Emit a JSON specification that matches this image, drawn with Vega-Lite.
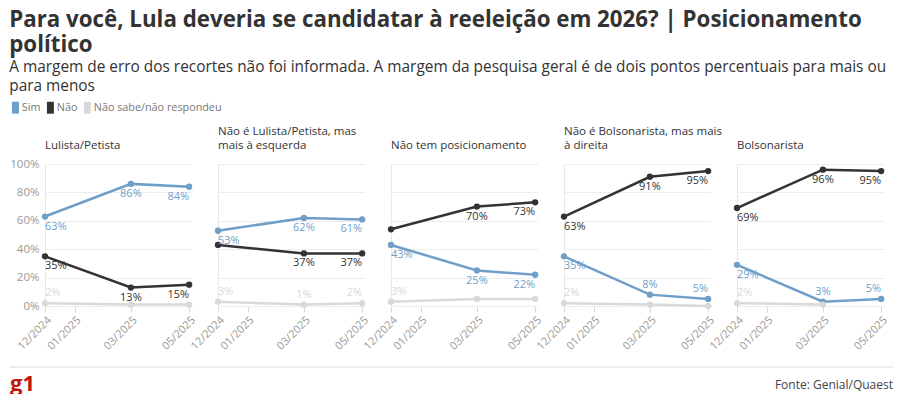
{
  "$schema": "https://vega.github.io/schema/vega-lite/v6.json",
  "padding": {"left": 9, "right": 8, "top": 8, "bottom": 0},
  "background": "white",
  "title": {
    "text": ["Para você, Lula deveria se candidatar à reeleição em 2026? | Posicionamento", "político"],
    "subtitle": ["A margem de erro dos recortes não foi informada. A margem da pesquisa geral é de dois pontos percentuais para mais ou", "para menos"],
    "anchor": "start",
    "font": "Open Sans",
    "fontSize": 22.3,
    "fontWeight": "bold",
    "color": "#333333",
    "lineHeight": 25,
    "subtitleFont": "Open Sans",
    "subtitleFontSize": 15.4,
    "subtitleColor": "#333333",
    "subtitleLineHeight": 18.5,
    "subtitlePadding": 4,
    "offset": 8
  },
  "config": {
    "font": "Open Sans",
    "view": {"stroke": null},
    "concat": {"spacing": 14}
  },
  "vconcat": [
    {
      "data": {
        "format": {"parse": {"data": "utc:'%Y-%m-%d'"}},
        "values": [
          {"painel": "Lulista/Petista", "resposta": "Sim", "data": "2024-12-01", "valor": 0.63, "rotulo": true},
          {"painel": "Lulista/Petista", "resposta": "Sim", "data": "2025-03-01", "valor": 0.86, "rotulo": true},
          {"painel": "Lulista/Petista", "resposta": "Sim", "data": "2025-05-01", "valor": 0.84, "rotulo": true},
          {"painel": "Lulista/Petista", "resposta": "Não", "data": "2024-12-01", "valor": 0.35, "rotulo": true},
          {"painel": "Lulista/Petista", "resposta": "Não", "data": "2025-03-01", "valor": 0.13, "rotulo": true},
          {"painel": "Lulista/Petista", "resposta": "Não", "data": "2025-05-01", "valor": 0.15, "rotulo": true},
          {"painel": "Lulista/Petista", "resposta": "Não sabe/não respondeu", "data": "2024-12-01", "valor": 0.02, "rotulo": true},
          {"painel": "Lulista/Petista", "resposta": "Não sabe/não respondeu", "data": "2025-03-01", "valor": 0.01, "rotulo": false},
          {"painel": "Lulista/Petista", "resposta": "Não sabe/não respondeu", "data": "2025-05-01", "valor": 0.01, "rotulo": false},

          {"painel": "Não é Lulista/Petista, mas mais à esquerda", "resposta": "Sim", "data": "2024-12-01", "valor": 0.53, "rotulo": true},
          {"painel": "Não é Lulista/Petista, mas mais à esquerda", "resposta": "Sim", "data": "2025-03-01", "valor": 0.62, "rotulo": true},
          {"painel": "Não é Lulista/Petista, mas mais à esquerda", "resposta": "Sim", "data": "2025-05-01", "valor": 0.61, "rotulo": true},
          {"painel": "Não é Lulista/Petista, mas mais à esquerda", "resposta": "Não", "data": "2024-12-01", "valor": 0.43, "rotulo": false},
          {"painel": "Não é Lulista/Petista, mas mais à esquerda", "resposta": "Não", "data": "2025-03-01", "valor": 0.37, "rotulo": true},
          {"painel": "Não é Lulista/Petista, mas mais à esquerda", "resposta": "Não", "data": "2025-05-01", "valor": 0.37, "rotulo": true},
          {"painel": "Não é Lulista/Petista, mas mais à esquerda", "resposta": "Não sabe/não respondeu", "data": "2024-12-01", "valor": 0.03, "rotulo": true},
          {"painel": "Não é Lulista/Petista, mas mais à esquerda", "resposta": "Não sabe/não respondeu", "data": "2025-03-01", "valor": 0.01, "rotulo": true},
          {"painel": "Não é Lulista/Petista, mas mais à esquerda", "resposta": "Não sabe/não respondeu", "data": "2025-05-01", "valor": 0.02, "rotulo": true},

          {"painel": "Não tem posicionamento", "resposta": "Sim", "data": "2024-12-01", "valor": 0.43, "rotulo": true},
          {"painel": "Não tem posicionamento", "resposta": "Sim", "data": "2025-03-01", "valor": 0.25, "rotulo": true},
          {"painel": "Não tem posicionamento", "resposta": "Sim", "data": "2025-05-01", "valor": 0.22, "rotulo": true},
          {"painel": "Não tem posicionamento", "resposta": "Não", "data": "2024-12-01", "valor": 0.54, "rotulo": false},
          {"painel": "Não tem posicionamento", "resposta": "Não", "data": "2025-03-01", "valor": 0.70, "rotulo": true},
          {"painel": "Não tem posicionamento", "resposta": "Não", "data": "2025-05-01", "valor": 0.73, "rotulo": true},
          {"painel": "Não tem posicionamento", "resposta": "Não sabe/não respondeu", "data": "2024-12-01", "valor": 0.03, "rotulo": true},
          {"painel": "Não tem posicionamento", "resposta": "Não sabe/não respondeu", "data": "2025-03-01", "valor": 0.05, "rotulo": false},
          {"painel": "Não tem posicionamento", "resposta": "Não sabe/não respondeu", "data": "2025-05-01", "valor": 0.05, "rotulo": false},

          {"painel": "Não é Bolsonarista, mas mais à direita", "resposta": "Sim", "data": "2024-12-01", "valor": 0.35, "rotulo": true},
          {"painel": "Não é Bolsonarista, mas mais à direita", "resposta": "Sim", "data": "2025-03-01", "valor": 0.08, "rotulo": true},
          {"painel": "Não é Bolsonarista, mas mais à direita", "resposta": "Sim", "data": "2025-05-01", "valor": 0.05, "rotulo": true},
          {"painel": "Não é Bolsonarista, mas mais à direita", "resposta": "Não", "data": "2024-12-01", "valor": 0.63, "rotulo": true},
          {"painel": "Não é Bolsonarista, mas mais à direita", "resposta": "Não", "data": "2025-03-01", "valor": 0.91, "rotulo": true},
          {"painel": "Não é Bolsonarista, mas mais à direita", "resposta": "Não", "data": "2025-05-01", "valor": 0.95, "rotulo": true},
          {"painel": "Não é Bolsonarista, mas mais à direita", "resposta": "Não sabe/não respondeu", "data": "2024-12-01", "valor": 0.02, "rotulo": true},
          {"painel": "Não é Bolsonarista, mas mais à direita", "resposta": "Não sabe/não respondeu", "data": "2025-03-01", "valor": 0.01, "rotulo": false},
          {"painel": "Não é Bolsonarista, mas mais à direita", "resposta": "Não sabe/não respondeu", "data": "2025-05-01", "valor": 0.0, "rotulo": false},

          {"painel": "Bolsonarista", "resposta": "Sim", "data": "2024-12-01", "valor": 0.29, "rotulo": true},
          {"painel": "Bolsonarista", "resposta": "Sim", "data": "2025-03-01", "valor": 0.03, "rotulo": true},
          {"painel": "Bolsonarista", "resposta": "Sim", "data": "2025-05-01", "valor": 0.05, "rotulo": true},
          {"painel": "Bolsonarista", "resposta": "Não", "data": "2024-12-01", "valor": 0.69, "rotulo": true},
          {"painel": "Bolsonarista", "resposta": "Não", "data": "2025-03-01", "valor": 0.96, "rotulo": true},
          {"painel": "Bolsonarista", "resposta": "Não", "data": "2025-05-01", "valor": 0.95, "rotulo": true},
          {"painel": "Bolsonarista", "resposta": "Não sabe/não respondeu", "data": "2024-12-01", "valor": 0.02, "rotulo": true},
          {"painel": "Bolsonarista", "resposta": "Não sabe/não respondeu", "data": "2025-03-01", "valor": 0.01, "rotulo": false}
        ]
      },
      "facet": {
        "column": {
          "field": "painel",
          "type": "nominal",
          "sort": ["Lulista/Petista", "Não é Lulista/Petista, mas mais à esquerda", "Não tem posicionamento", "Não é Bolsonarista, mas mais à direita", "Bolsonarista"],
          "header": {
            "title": null,
            "labelExpr": "datum.value == 'Não é Lulista/Petista, mas mais à esquerda' ? ['Não é Lulista/Petista, mas', 'mais à esquerda'] : (datum.value == 'Não é Bolsonarista, mas mais à direita' ? ['Não é Bolsonarista, mas mais', 'à direita'] : datum.value)",
            "labelAnchor": "start",
            "labelAlign": "left",
            "labelBaseline": "bottom",
            "labelFont": "Open Sans",
            "labelFontSize": 11.5,
            "labelFontWeight": "normal",
            "labelColor": "#333333",
            "labelLineHeight": 13.5,
            "labelPadding": 2
          }
        }
      },
      "spacing": 26,
      "bounds": "flush",
      "spec": {
        "width": 147,
        "height": 142,
        "encoding": {
          "x": {
            "field": "data",
            "type": "temporal",
            "scale": {
              "type": "utc",
              "domain": [{"year": 2024, "month": 12, "date": 1, "utc": true}, {"year": 2025, "month": 5, "date": 4, "utc": true}]
            },
            "axis": {
              "title": null,
              "values": [
                {"year": 2024, "month": 12, "date": 1, "utc": true},
                {"year": 2025, "month": 1, "date": 1, "utc": true},
                {"year": 2025, "month": 3, "date": 1, "utc": true},
                {"year": 2025, "month": 5, "date": 1, "utc": true}
              ],
              "format": "%m/%Y",
              "labelAngle": -45,
              "labelOverlap": false,
              "labelColor": "#999999",
              "labelFontSize": 11,
              "labelFont": "Open Sans",
              "labelPadding": 2,
              "domain": false,
              "ticks": true,
              "tickColor": "#d9d9d9",
              "tickSize": 6,
              "grid": true,
              "gridColor": {"condition": {"test": "utcmonth(datum.value) == 11", "value": "#e8e8e8"}, "value": "transparent"}
            }
          },
          "y": {
            "field": "valor",
            "type": "quantitative",
            "scale": {"domain": [0, 1]},
            "axis": {
              "title": null,
              "values": [0, 0.2, 0.4, 0.6, 0.8, 1],
              "format": ".0%",
              "domain": false,
              "ticks": false,
              "labelColor": "#999999",
              "labelFontSize": 11.5,
              "labelFont": "Open Sans",
              "labelPadding": 6,
              "gridColor": "#ededed"
            }
          },
          "color": {
            "field": "resposta",
            "type": "nominal",
            "scale": {"domain": ["Sim", "Não", "Não sabe/não respondeu"], "range": ["#6f9fc8", "#333333", "#d9d9d9"]},
            "legend": {
              "title": null,
              "orient": "none",
              "legendX": -35,
              "legendY": -62,
              "direction": "horizontal",
              "symbolType": "M-1,-1.7H1V1.7H-1Z",
              "symbolSize": 49,
              "symbolStrokeWidth": 0,
              "symbolOpacity": 1,
              "labelFont": "Open Sans",
              "labelFontSize": 10.8,
              "labelColor": "#777777",
              "labelOffset": 1,
              "columnPadding": 4
            }
          }
        },
        "layer": [
          {
            "mark": {"type": "line", "strokeWidth": 2.5}
          },
          {
            "mark": {"type": "point", "filled": true, "size": 40, "opacity": 1}
          },
          {
            "transform": [{"filter": "datum.rotulo"}],
            "mark": {
              "type": "text",
              "font": "Open Sans",
              "fontSize": 11,
              "baseline": "middle",
              "align": {"expr": "utcmonth(datum.data) == 11 ? 'left' : (utcmonth(datum.data) == 4 ? 'right' : 'center')"},
              "dy": {"expr": "datum.valor < 0.1 ? -10 : 10"}
            },
            "encoding": {
              "text": {"field": "valor", "type": "quantitative", "format": ".0%"}
            }
          }
        ]
      }
    },
    {
      "width": 848,
      "height": 28,
      "data": {"values": [{"marca": "g1", "fonte": "Fonte: Genial/Quaest"}]},
      "encoding": {
        "x": {"datum": -0.0413, "type": "quantitative", "scale": {"domain": [0, 1], "nice": false, "zero": false}, "axis": null},
        "y": {"datum": 0.39, "type": "quantitative", "scale": {"domain": [0, 1], "nice": false, "zero": false}, "axis": null}
      },
      "layer": [
        {
          "mark": {"type": "rule", "color": "#e6e6e6", "strokeWidth": 1.5},
          "encoding": {
            "x": {"datum": -0.0413, "type": "quantitative"},
            "x2": {"datum": 1},
            "y": {"datum": 1, "type": "quantitative"}
          }
        },
        {
          "mark": {"type": "text", "align": "left", "baseline": "middle", "font": "Open Sans", "fontSize": 22, "fontWeight": "bold", "color": "#c4170c"},
          "encoding": {
            "text": {"field": "marca", "type": "nominal"}
          }
        },
        {
          "mark": {"type": "text", "align": "right", "baseline": "middle", "font": "Open Sans", "fontSize": 12, "color": "#444444", "dy": 1},
          "encoding": {
            "text": {"field": "fonte", "type": "nominal"},
            "x": {"datum": 1, "type": "quantitative"}
          }
        }
      ]
    }
  ]
}
